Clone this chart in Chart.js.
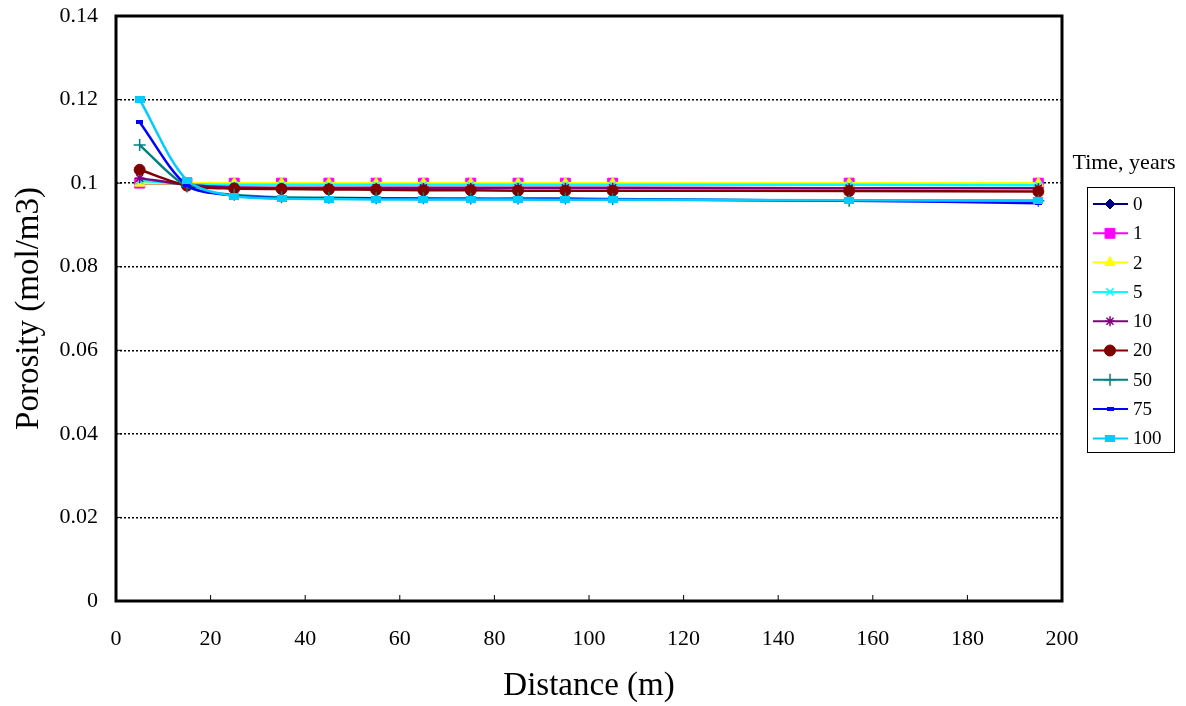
<!DOCTYPE html>
<html>
<head>
<meta charset="utf-8">
<script src="https://cdn.jsdelivr.net/npm/chart.js@4.4.0/dist/chart.umd.min.js"></script>
<style>
html,body{margin:0;padding:0;background:#fff;}
#wrap{width:1186px;height:706px;}
</style>
</head>
<body>
<div id="wrap"><canvas id="c" width="1186" height="706"></canvas></div>
<script>
const distances = [5,15,25,35,45,55,65,75,85,95,105,155,195];
const seriesNames = ['0','1','2','5','10','20','50','75','100'];
const s0   = [0.1,0.1,0.1,0.1,0.1,0.1,0.1,0.1,0.1,0.1,0.1,0.1,0.1];
const s1   = [0.1,0.1,0.1,0.1,0.1,0.1,0.1,0.1,0.1,0.1,0.1,0.1,0.1];
const s2   = [0.1,0.1,0.1,0.1,0.1,0.1,0.1,0.1,0.1,0.1,0.1,0.1,0.1];
const s5   = [0.1006,0.0998,0.0996,0.0996,0.0996,0.0996,0.0996,0.0996,0.0996,0.0996,0.0996,0.0996,0.0995];
const s10  = [0.1012,0.0996,0.0990,0.0989,0.0989,0.0989,0.0989,0.0989,0.0989,0.0989,0.0989,0.0988,0.0988];
const s20  = [0.1032,0.0994,0.0987,0.0986,0.0985,0.0984,0.0983,0.0983,0.0982,0.0982,0.0982,0.0981,0.0980];
const s50  = [0.1091,0.0992,0.0972,0.0966,0.0965,0.0964,0.0964,0.0963,0.0963,0.0963,0.0962,0.0958,0.0958];
const s75  = [0.1146,0.0995,0.0970,0.0964,0.0963,0.0963,0.0962,0.0962,0.0962,0.0962,0.0961,0.0958,0.0952];
const s100 = [0.1200,0.1007,0.0969,0.0963,0.0962,0.0961,0.0961,0.0961,0.0961,0.0960,0.0960,0.0959,0.0958];
const allSeries = [s0,s1,s2,s5,s10,s20,s50,s75,s100];
const xTicks = [0,20,40,60,80,100,120,140,160,180,200];
const yTicks = [0,0.02,0.04,0.06,0.08,0.1,0.12,0.14];

function rectImg(w,h,color){
  const c=document.createElement('canvas');c.width=w;c.height=h;
  const g=c.getContext('2d');g.fillStyle=color;g.fillRect(0,0,w,h);return c;
}
const colors = ['#000080','#FF00FF','#FFFF00','#00FFFF','#800080','#800000','#008080','#0000FF','#00CCFF'];
const styles = [
  {ps:'rectRot',r:5,bw:1},
  {ps:'rect',r:7,bw:1},
  {ps:'triangle',r:6,bw:1},
  {ps:'crossRot',r:5,bw:1.5},
  {ps:'star',r:5,bw:1.5},
  {ps:'circle',r:5.5,bw:1},
  {ps:'cross',r:6,bw:1.5},
  {ps:rectImg(7,4,'#0000FF'),r:4,bw:1},
  {ps:rectImg(10,7,'#00CCFF'),r:5,bw:1}
];

const datasets = allSeries.map((s,i)=>({
  label: seriesNames[i],
  data: s.map((v,k)=>({x:distances[k],y:v})),
  borderColor: colors[i],
  backgroundColor: colors[i],
  borderWidth: 2.5,
  pointStyle: styles[i].ps,
  pointRadius: styles[i].r,
  pointBorderWidth: styles[i].bw,
  pointBorderColor: colors[i],
  pointBackgroundColor: colors[i],
  tension: 0.3,
  fill: false,
  order: 20 - i
}));

const serif = "'Liberation Serif','Times New Roman',serif";

const framePlugin = {
  id:'frame',
  afterDraw(chart){
    const {ctx, chartArea:a, scales:{x,y}} = chart;
    ctx.save();
    ctx.strokeStyle='#000';
    ctx.lineWidth=1;
    xTicks.forEach(v=>{const px=x.getPixelForValue(v);ctx.beginPath();ctx.moveTo(px,a.bottom);ctx.lineTo(px,a.bottom-6);ctx.stroke();});
    yTicks.forEach(v=>{const py=y.getPixelForValue(v);ctx.beginPath();ctx.moveTo(a.left,py);ctx.lineTo(a.left+6,py);ctx.stroke();});
    ctx.lineWidth=3;
    ctx.strokeRect(a.left,a.top,a.right-a.left,a.bottom-a.top);
    // legend
    ctx.fillStyle='#000';
    ctx.font="22px "+serif;
    ctx.textAlign='center';ctx.textBaseline='middle';
    ctx.fillText('Time, years',1124,163);
    ctx.lineWidth=1;
    ctx.strokeRect(1087.5,187.5,87,265);
    ctx.textAlign='left';
    ctx.font="19px "+serif;
    chart.data.datasets.forEach((d,i)=>{
      const yy=204+i*29.3;
      ctx.strokeStyle=d.borderColor;ctx.lineWidth=2;
      ctx.beginPath();ctx.moveTo(1093,yy);ctx.lineTo(1128,yy);ctx.stroke();
      ctx.fillStyle=d.borderColor;
      ctx.lineWidth=d.pointBorderWidth;
      Chart.helpers.drawPoint(ctx,{pointStyle:d.pointStyle,radius:d.pointRadius,rotation:0,borderWidth:d.pointBorderWidth},1110,yy);
      ctx.fillStyle='#000';
      ctx.fillText(d.label,1133,yy+1);
    });
    ctx.restore();
  }
};

new Chart(document.getElementById('c'),{
  type:'line',
  data:{datasets},
  options:{
    responsive:false,
    animation:false,
    layout:{padding:{top:16,right:124,left:0,bottom:0}},
    plugins:{legend:{display:false},tooltip:{enabled:false}},
    scales:{
      x:{
        type:'linear',min:0,max:200,
        afterBuildTicks(s){s.ticks=xTicks.map(v=>({value:v}));},
        afterFit(s){s.height=105;s.paddingLeft=0;s.paddingRight=0;},
        grid:{display:false,drawTicks:false},
        border:{display:false},
        ticks:{color:'#000',font:{family:serif,size:22},padding:25,maxRotation:0},
        title:{display:true,text:'Distance (m)',color:'#000',font:{family:serif,size:33,lineHeight:1},padding:{top:0,bottom:3}}
      },
      y:{
        type:'linear',min:0,max:0.14,
        afterBuildTicks(s){s.ticks=yTicks.map(v=>({value:v}));},
        afterFit(s){s.width=116;s.paddingTop=0;s.paddingBottom=0;},
        grid:{
          drawTicks:false,
          color:(c)=> (c.tick && (c.tick.value===0 || c.tick.value===0.14)) ? 'rgba(0,0,0,0)' : '#000',
          lineWidth:1.5
        },
        border:{display:false,dash:[2,2]},
        ticks:{color:'#000',font:{family:serif,size:22},padding:18,callback:(v)=>String(+v.toFixed(2))},
        title:{display:true,text:'Porosity (mol/m3)',color:'#000',font:{family:serif,size:33,lineHeight:1},padding:{top:13,bottom:0}}
      }
    }
  },
  plugins:[framePlugin]
});
</script>
</body>
</html>
